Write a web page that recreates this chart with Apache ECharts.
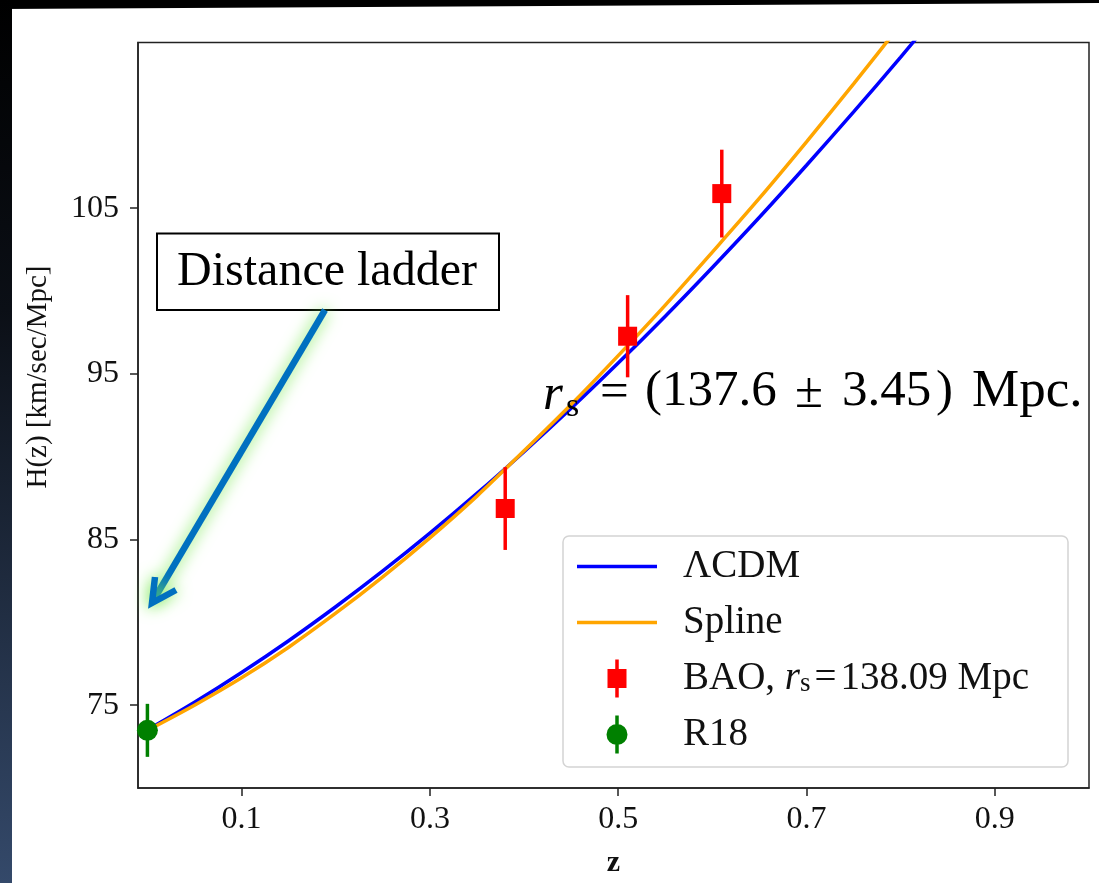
<!DOCTYPE html>
<html>
<head>
<meta charset="utf-8">
<script src="https://cdn.jsdelivr.net/npm/echarts@6/dist/echarts.min.js"></script>
<style>
html,body{margin:0;padding:0;background:#fff;}
#chart{width:1099px;height:883px;}
</style>
</head>
<body>
<div id="chart"></div>
<script>
// ---- data ----
const zGrid   = [0, 0.05, 0.10, 0.15, 0.20, 0.25, 0.30, 0.35, 0.40, 0.45, 0.50, 0.55, 0.60, 0.65, 0.70, 0.75, 0.80, 0.85];
const lcdmH   = [73.50, 75.17, 76.97, 78.89, 80.94, 83.10, 85.38, 87.78, 90.30, 92.92, 95.65, 98.48, 101.42, 104.45, 107.59, 110.81, 114.12, 117.53];
const splineH = [73.48, 75.00, 76.65, 78.50, 80.55, 82.75, 85.10, 87.62, 90.35, 93.15, 96.10, 99.15, 102.35, 105.60, 109.00, 112.50, 116.10, 119.80];
const baoZ   = [0.38, 0.51, 0.61];
const baoH   = [86.87, 97.27, 105.88];
const baoErr = [2.50, 2.48, 2.65];
const r18Z   = [0.0];
const r18H   = [73.48];
const r18Err = [1.60];
const xTicks = [0.1, 0.3, 0.5, 0.7, 0.9];
const yTicks = [75, 85, 95, 105];
const names = ['\u039BCDM', 'Spline', 'BAO', 'R18'];

const FONT = '"Liberation Serif", "Times New Roman", serif';
const chart = echarts.init(document.getElementById('chart'));

function pairs(xs, ys) { return xs.map((x, i) => [x, ys[i]]); }
function errData(xs, ys, es) { return xs.map((x, i) => [x, ys[i] - es[i], ys[i] + es[i]]); }
function errRender(color) {
  return function (params, api) {
    const p1 = api.coord([api.value(0), api.value(1)]);
    const p2 = api.coord([api.value(0), api.value(2)]);
    return { type: 'line', shape: { x1: p1[0], y1: p1[1], x2: p2[0], y2: p2[1] },
             style: { stroke: color, lineWidth: 3.5 } };
  };
}

const lineIcon = 'path://M0,0H80V3.5H0Z';
const baoIcon = 'path://M7.75,0H11.25V9.5H19V28.5H11.25V38H7.75V28.5H0V9.5H7.75Z';
const r18Icon = 'path://M8.75,0H12.25V9H8.75Z M8.75,29H12.25V38H8.75Z M0,19A10.5,10.5 0 1 1 21,19A10.5,10.5 0 1 1 0,19Z';

function txt(x, y, s, size, extra) {
  return { type: 'text', z: 20, x: x, y: y,
    style: Object.assign({ text: s, fontFamily: FONT, fontSize: size, fill: '#000', verticalAlign: 'middle' }, extra || {}) };
}

const option = {
  backgroundColor: '#ffffff',
  animation: false,
  grid: { left: 138, top: 42.5, right: 10, bottom: 95, show: true, borderColor: '#222', borderWidth: 1.5, containLabel: false },
  xAxis: {
    type: 'value', min: -0.01, max: 1.0,
    name: 'z', nameLocation: 'middle', nameGap: 60,
    nameTextStyle: { fontFamily: FONT, fontSize: 30, color: '#111', fontWeight: 'bold' },
    axisLine: { show: true, onZero: false, lineStyle: { color: '#222', width: 1.5 } },
    axisTick: { show: true, length: 8, inside: false, customValues: xTicks, lineStyle: { color: '#222', width: 1.5 } },
    axisLabel: { customValues: xTicks, formatter: v => v.toFixed(1), fontFamily: FONT, fontSize: 32, color: '#111', margin: 16 },
    splitLine: { show: false }
  },
  yAxis: {
    type: 'value', min: 70, max: 115,
    axisLine: { show: true, onZero: false, lineStyle: { color: '#222', width: 1.5 } },
    axisTick: { show: true, length: 8, inside: false, customValues: yTicks, lineStyle: { color: '#222', width: 1.5 } },
    axisLabel: { customValues: yTicks, fontFamily: FONT, fontSize: 32, color: '#111', margin: 19 },
    splitLine: { show: false }
  },
  legend: {
    orient: 'vertical', left: 577, top: 547, padding: 0,
    itemWidth: 80, itemHeight: 38, itemGap: 17,
    data: [
      { name: names[0], icon: lineIcon },
      { name: names[1], icon: lineIcon },
      { name: names[2], icon: baoIcon },
      { name: names[3], icon: r18Icon }
    ],
    formatter: function (n) {
      if (n === 'BAO') return 'BAO, {i|r}{s|s}{g| }{n|=}{g| }{n|138.09 Mpc}';
      return n;
    },
    textStyle: {
      fontFamily: FONT, fontSize: 39, color: '#111', lineHeight: 38, padding: [0, 0, 0, 21],
      rich: {
        i: { fontFamily: FONT, fontSize: 39, fontStyle: 'italic', color: '#111', lineHeight: 38 },
        s: { fontFamily: FONT, fontSize: 27, color: '#111', lineHeight: 28, padding: [10, 0, 0, 0] },
        g: { fontFamily: FONT, fontSize: 16, color: '#111', lineHeight: 38 },
        n: { fontFamily: FONT, fontSize: 39, color: '#111', lineHeight: 38 }
      }
    },
    z: 10
  },
  graphic: [
    // dark frame of the screenshot
    { type: 'polygon', z: 100, silent: true, shape: { points: [[0, 0], [1099, 0], [1099, 3], [0, 9]] }, style: { fill: '#000' } },
    { type: 'rect', z: 100, silent: true, shape: { x: 0, y: 0, width: 12, height: 883 },
      style: { fill: new echarts.graphic.LinearGradient(0, 0, 0, 1, [{ offset: 0, color: '#000' }, { offset: 0.35, color: '#0b0f16' }, { offset: 1, color: '#34496a' }]) } },
    // legend frame
    { type: 'rect', z: 5, silent: true, shape: { x: 563, y: 536, width: 505, height: 231, r: 6 },
      style: { fill: 'rgba(255,255,255,0.85)', stroke: '#d4d4d4', lineWidth: 1.5 } },
    // y axis title
    { type: 'text', z: 20, x: 38, y: 377, rotation: Math.PI / 2,
      style: { text: 'H(z) [km/sec/Mpc]', fontFamily: FONT, fontSize: 29, fill: '#111', align: 'center', verticalAlign: 'middle' } },
    // Distance ladder box
    { type: 'rect', z: 20, shape: { x: 157, y: 233.5, width: 342, height: 76.5 }, style: { fill: '#fff', stroke: '#000', lineWidth: 2 } },
    txt(327, 272, 'Distance ladder', 48, { align: 'center' }),
    // arrow with glow
    { type: 'polyline', z: 22, shape: { points: [[325, 310], [153, 601]] },
      style: { stroke: '#0070c0', lineWidth: 6.5, shadowBlur: 16, shadowColor: '#78e850' } },
    { type: 'polyline', z: 22, shape: { points: [[155, 577], [152, 603], [176, 590]] },
      style: { stroke: '#0070c0', lineWidth: 6.5, lineJoin: 'miter', shadowBlur: 16, shadowColor: '#78e850' } },
    // r_s annotation
    txt(543, 396, 'r', 51, { fontStyle: 'italic' }),
    txt(566, 407, 's', 34),
    txt(600, 394, '=', 51),
    txt(645, 392, '(', 51),
    txt(662, 392, '137.6', 51),
    txt(795, 394, '\u00B1', 51),
    txt(842, 392, '3.45', 51),
    txt(936, 392, ')', 51),
    txt(972, 392, 'Mpc.', 53)
  ],
  series: [
    { name: names[0], type: 'line', data: pairs(zGrid, lcdmH), smooth: 0.3, symbol: 'none', clip: true,
      lineStyle: { color: '#0000ff', width: 3.5 }, itemStyle: { color: '#0000ff' }, z: 3 },
    { name: names[1], type: 'line', data: pairs(zGrid, splineH), smooth: 0.3, symbol: 'none', clip: true,
      lineStyle: { color: '#ffa500', width: 3.5 }, itemStyle: { color: '#ffa500' }, z: 3 },
    { name: 'BAO err', type: 'custom', data: errData(baoZ, baoH, baoErr), renderItem: errRender('#ff0000'), z: 4 },
    { name: names[2], type: 'scatter', data: pairs(baoZ, baoH), symbol: 'rect', symbolSize: 19,
      itemStyle: { color: '#ff0000', opacity: 1 }, z: 5 },
    { name: 'R18 err', type: 'custom', data: errData(r18Z, r18H, r18Err), renderItem: errRender('#008000'), z: 4 },
    { name: names[3], type: 'scatter', data: pairs(r18Z, r18H), symbol: 'circle', symbolSize: 21,
      itemStyle: { color: '#008000', opacity: 1 }, z: 5 }
  ]
};
chart.setOption(option);
</script>
</body>
</html>
